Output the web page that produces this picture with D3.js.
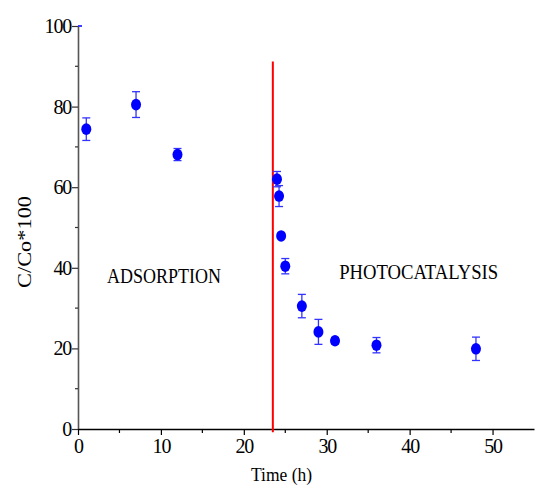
<!DOCTYPE html>
<html><head><meta charset="utf-8">
<script src="https://cdn.jsdelivr.net/npm/d3@7"></script>
<style>body{margin:0;background:#fff}svg{display:block}</style>
</head><body><svg id="c" width="535" height="487"></svg>
<script>
const times = [1, 7, 12, 24, 24.25, 24.5, 25, 27, 29, 31, 36, 48];
const values = [74.4, 80.5, 68.1, 62.0, 57.8, 47.9, 40.4, 30.5, 24.1, 21.9, 20.8, 19.9];
const errors = [2.8, 3.2, 1.5, 1.9, 2.6, 0.5, 1.9, 2.9, 3.1, 0.8, 1.9, 2.9];
const xTicks = [0, 10, 20, 30, 40, 50];
const yTicks = [0, 20, 40, 60, 80, 100];
const divider = {x: 23.5, y0: -0.8, y1: 91.2};
const labels = [{text: "ADSORPTION", x: 3.5, y: 36.2, len: 114}, {text: "PHOTOCATALYSIS", x: 31.5, y: 37.2, len: 159}];

const svg = d3.select("#c");
const x = d3.scaleLinear().domain([0, 55]).range([78, 534]);
const y = d3.scaleLinear().domain([0, 100]).range([429, 26]);
const font = "'Liberation Serif', 'Times New Roman', serif";

// Y axis
const ya = svg.append("g").attr("transform", `translate(${x(0)},0)`)
  .call(d3.axisLeft(y).tickValues(yTicks).tickSize(6).tickSizeOuter(0).tickPadding(1));
ya.select(".domain").attr("stroke", "#555").attr("stroke-width", 1.6);
ya.selectAll(".tick line").attr("stroke", "#333").attr("stroke-width", 1.2);
ya.selectAll(".tick text").attr("font-family", font).attr("font-size", 20).attr("fill", "#000").attr("letter-spacing", -1.2);
svg.append("g").selectAll("line").data([10, 30, 50, 70, 90]).join("line")
  .attr("x1", x(0) - 3).attr("x2", x(0)).attr("y1", d => y(d)).attr("y2", d => y(d))
  .attr("stroke", "#333").attr("stroke-width", 1.2);
svg.append("line").attr("x1", x(0)).attr("x2", x(0) + 4).attr("y1", y(100)).attr("y2", y(100))
  .attr("stroke", "#0000ff").attr("stroke-width", 1.5);

// X axis
const xa = svg.append("g").attr("transform", `translate(0,${y(0)})`)
  .call(d3.axisBottom(x).tickValues(xTicks).tickSize(6).tickSizeOuter(0).tickPadding(4));
xa.select(".domain").attr("stroke", "#000").attr("stroke-width", 1.4);
xa.selectAll(".tick line").attr("stroke", "#000").attr("stroke-width", 1.2);
xa.selectAll(".tick text").attr("font-family", font).attr("font-size", 20).attr("fill", "#000").attr("letter-spacing", -1.2);
svg.append("g").selectAll("line").data([5, 15, 25, 35, 45]).join("line")
  .attr("x1", d => x(d)).attr("x2", d => x(d)).attr("y1", y(0)).attr("y2", y(0) + 4)
  .attr("stroke", "#000").attr("stroke-width", 1.2);

// divider
svg.append("line").attr("x1", x(divider.x)).attr("x2", x(divider.x))
  .attr("y1", y(divider.y1)).attr("y2", y(divider.y0))
  .attr("stroke", "#ff0000").attr("stroke-width", 2);

// error bars
const data = times.map((t, i) => ({t, v: values[i], e: errors[i]}));
const eb = svg.append("g").attr("stroke", "#3333ff").attr("stroke-width", 1.3);
data.forEach(d => {
  eb.append("line").attr("x1", x(d.t)).attr("x2", x(d.t)).attr("y1", y(d.v - d.e)).attr("y2", y(d.v + d.e));
  [d.v - d.e, d.v + d.e].forEach(w => eb.append("line").attr("x1", x(d.t) - 4).attr("x2", x(d.t) + 4).attr("y1", y(w)).attr("y2", y(w)));
});
svg.append("g").selectAll("ellipse").data(data).join("ellipse")
  .attr("cx", d => x(d.t)).attr("cy", d => y(d.v)).attr("rx", 5).attr("ry", 5.8)
  .attr("fill", "#0000ff");

// labels
svg.append("g").selectAll("text").data(labels).join("text")
  .attr("x", d => x(d.x)).attr("y", d => y(d.y)).attr("text-anchor", "start")
  .attr("font-family", font).attr("font-size", 20).attr("fill", "#000")
  .attr("textLength", d => d.len).attr("lengthAdjust", "spacingAndGlyphs")
  .text(d => d.text);
svg.append("text").attr("x", 251).attr("y", 481).attr("font-family", font).attr("font-size", 18)
  .attr("textLength", 61).attr("lengthAdjust", "spacingAndGlyphs").text("Time (h)");
svg.append("text").attr("transform", "translate(31,288) rotate(-90)").attr("font-family", font).attr("font-size", 19)
  .attr("textLength", 92).attr("lengthAdjust", "spacingAndGlyphs").text("C/Co*100");
</script></body></html>
